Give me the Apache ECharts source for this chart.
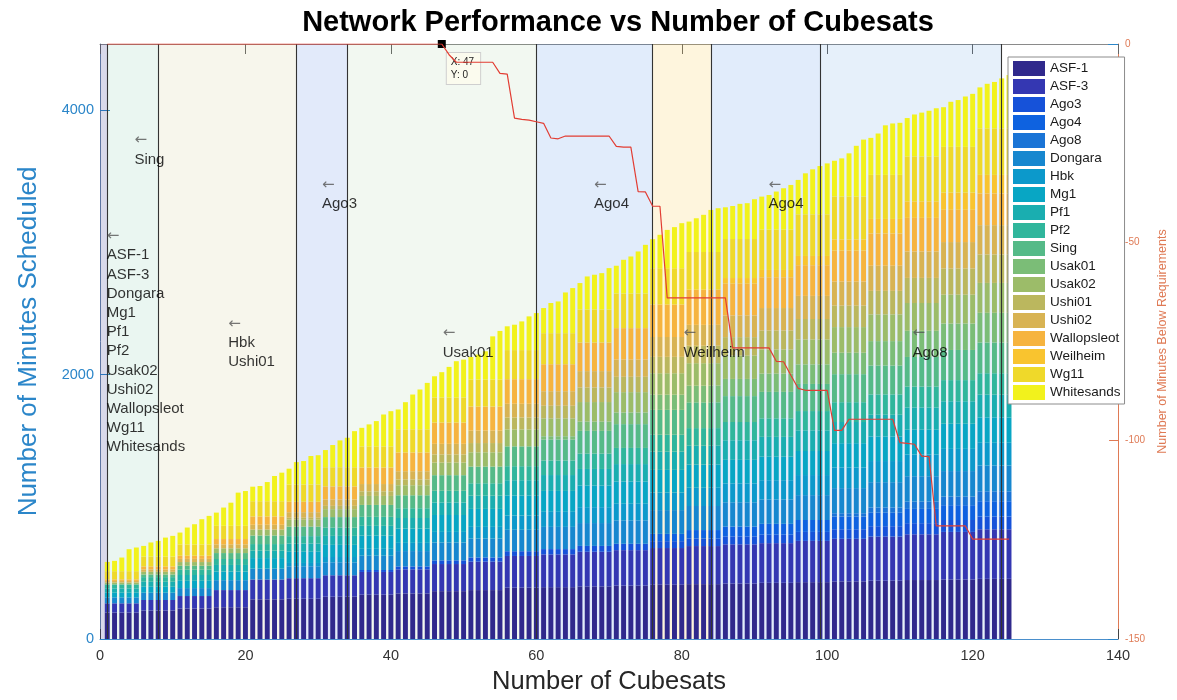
<!DOCTYPE html>
<html>
<head>
<meta charset="utf-8">
<script src="https://cdn.jsdelivr.net/npm/echarts@6.0.0/dist/echarts.min.js"></script>
<style>
html, body { margin: 0; padding: 0; background: #fff; }
#main { width: 1177px; height: 700px; }
</style>
</head>
<body>
<div id="main"></div>
<script>
// stations, bottom of the stack first
var stations = ['ASF-1', 'ASF-3', 'Ago3', 'Ago4', 'Ago8', 'Dongara', 'Hbk', 'Mg1', 'Pf1', 'Pf2',
    'Sing', 'Usak01', 'Usak02', 'Ushi01', 'Ushi02', 'Wallopsleot', 'Weilheim', 'Wg11', 'Whitesands'];
var colors = ['#30298c', '#3437b2', '#1652d9', '#0e62e0', '#1a74d6', '#1787cf', '#0c99cb', '#08a6c4', '#1aaeb0', '#30b69c',
    '#55ba88', '#7bbd77', '#9cbc69', '#bbb75e', '#d8b353', '#f6b43f', '#f9c42f', '#efd92a', '#f2f21c'];

// x positions: 1 .. 125 cubesats
var cubesats = [];
for (var n = 1; n <= 125; n++) cubesats.push(n);

// minutes scheduled per station
var asf1 = [200,200,200,200,200,215,215,215,215,215,230,230,230,230,230,240,240,240,240,240,300,300,300,300,300,
    305,305,305,305,305,320,320,320,320,320,335,335,335,335,335,345,345,345,345,345,362,362,362,362,362,
    370,370,370,370,370,388,388,388,388,388,392,392,392,392,392,398,398,398,398,398,404,404,404,404,404,
    410,410,410,410,410,415,415,415,415,415,420,420,420,420,420,425,425,425,425,425,430,430,430,430,430,
    436,436,436,436,436,441,441,441,441,441,446,446,446,446,446,450,450,450,450,450,455,455,455,455,455];
var asf3 = [70,70,70,70,70,80,80,80,80,80,95,95,95,95,95,130,130,130,130,130,150,150,150,150,150,
    155,155,155,155,155,162,162,162,162,162,172,172,172,172,172,182,182,182,182,182,205,205,205,205,205,
    215,215,215,215,215,240,240,240,240,240,248,248,248,248,248,262,262,262,262,262,268,268,268,268,268,
    278,278,278,278,278,288,288,288,288,288,296,296,296,296,296,300,300,300,300,300,312,312,312,312,312,
    322,322,322,322,322,334,334,334,334,334,346,346,346,346,346,360,360,360,360,360,375,375,375,375,375];
var ago3 = [0,0,0,0,0,0,0,0,0,0,0,0,0,0,0,0,0,0,0,0,0,0,0,0,0,
    0,0,0,0,0,0,0,0,0,0,15,15,15,15,15,22,22,22,22,22,28,28,28,28,28,
    32,32,32,32,32,36,36,36,36,36,40,40,40,40,40,44,44,44,44,44,48,48,48,48,48,
    52,52,52,52,52,56,56,56,56,56,60,60,60,60,60,64,64,64,64,64,68,68,68,68,68,
    72,72,72,72,72,78,78,78,78,78,84,84,84,84,84,90,90,90,90,90,96,96,96,96,96];
var ago4 = [0,0,0,0,0,0,0,0,0,0,0,0,0,0,0,0,0,0,0,0,0,0,0,0,0,
    0,0,0,0,0,0,0,0,0,0,0,0,0,0,0,0,0,0,0,0,0,0,0,0,0,
    0,0,0,0,0,0,0,0,0,0,0,0,0,0,0,0,0,0,0,0,0,0,0,0,0,
    55,55,55,55,55,65,65,65,65,65,74,74,74,74,74,82,82,82,82,82,90,90,90,90,90,
    96,96,96,96,96,102,102,102,102,102,108,108,108,108,108,112,112,112,112,112,116,116,116,116,116];
var ago8 = [0,0,0,0,0,0,0,0,0,0,0,0,0,0,0,0,0,0,0,0,0,0,0,0,0,
    0,0,0,0,0,0,0,0,0,0,0,0,0,0,0,0,0,0,0,0,0,0,0,0,0,
    0,0,0,0,0,0,0,0,0,0,0,0,0,0,0,0,0,0,0,0,0,0,0,0,0,
    0,0,0,0,0,0,0,0,0,0,0,0,0,0,0,0,0,0,0,0,0,0,0,0,0,
    25,25,25,25,25,40,40,40,40,40,55,55,55,55,55,65,65,65,65,65,75,75,75,75,75];
var dongara = [45,45,45,45,45,55,55,55,55,55,60,60,60,60,60,75,75,75,75,75,82,82,82,82,82,
    90,90,90,90,90,98,98,98,98,98,108,108,108,108,108,116,116,116,116,116,135,135,135,135,135,
    143,143,143,143,143,162,162,162,162,162,168,168,168,168,168,173,173,173,173,173,177,177,177,177,177,
    180,180,180,180,180,182,182,182,182,182,184,184,184,184,184,184,184,184,184,184,188,188,188,188,188,
    190,190,190,190,190,191,191,191,191,191,192,192,192,192,192,193,193,193,193,193,195,195,195,195,195];
var hbk = [0,0,0,0,0,0,0,0,0,0,0,0,0,0,0,0,0,0,0,0,0,0,0,0,0,
    25,25,25,25,25,40,40,40,40,40,52,52,52,52,52,62,62,62,62,62,80,80,80,80,80,
    88,88,88,88,88,108,108,108,108,108,114,114,114,114,114,120,120,120,120,120,126,126,126,126,126,
    132,132,132,132,132,138,138,138,138,138,143,143,143,143,143,146,146,146,146,146,152,152,152,152,152,
    156,156,156,156,156,160,160,160,160,160,164,164,164,164,164,168,168,168,168,168,172,172,172,172,172];
var mg1 = [35,35,35,35,35,45,45,45,45,45,55,55,55,55,55,65,65,65,65,65,80,80,80,80,80,
    85,85,85,85,85,92,92,92,92,92,100,100,100,100,100,108,108,108,108,108,128,128,128,128,128,
    136,136,136,136,136,152,152,152,152,152,158,158,158,158,158,163,163,163,163,163,168,168,168,168,168,
    172,172,172,172,172,175,175,175,175,175,178,178,178,178,178,178,178,178,178,178,182,182,182,182,182,
    184,184,184,184,184,186,186,186,186,186,188,188,188,188,188,190,190,190,190,190,192,192,192,192,192];
var pf1 = [33,33,33,33,33,38,38,38,38,38,44,44,44,44,44,50,50,50,50,50,56,56,56,56,56,
    62,62,62,62,62,68,68,68,68,68,74,74,74,74,74,80,80,80,80,80,95,95,95,95,95,
    100,100,100,100,100,115,115,115,115,115,120,120,120,120,120,126,126,126,126,126,132,132,132,132,132,
    138,138,138,138,138,143,143,143,143,143,148,148,148,148,148,150,150,150,150,150,156,156,156,156,156,
    160,160,160,160,160,164,164,164,164,164,168,168,168,168,168,170,170,170,170,170,172,172,172,172,172];
var pf2 = [30,30,30,30,30,35,35,35,35,35,40,40,40,40,40,45,45,45,45,45,50,50,50,50,50,
    56,56,56,56,56,62,62,62,62,62,68,68,68,68,68,74,74,74,74,74,88,88,88,88,88,
    94,94,94,94,94,106,106,106,106,106,110,110,110,110,110,116,116,116,116,116,122,122,122,122,122,
    128,128,128,128,128,133,133,133,133,133,138,138,138,138,138,140,140,140,140,140,146,146,146,146,146,
    150,150,150,150,150,154,154,154,154,154,158,158,158,158,158,160,160,160,160,160,162,162,162,162,162];
var sing = [0,0,0,0,0,20,20,20,20,20,30,30,30,30,30,45,45,45,45,45,65,65,65,65,65,
    72,72,72,72,72,80,80,80,80,80,90,90,90,90,90,98,98,98,98,98,118,118,118,118,118,
    126,126,126,126,126,150,150,150,150,150,158,158,158,158,158,172,172,172,172,172,180,180,180,180,180,
    188,188,188,188,188,195,195,195,195,195,196,196,196,196,196,200,200,200,200,200,205,205,205,205,205,
    212,212,212,212,212,218,218,218,218,218,224,224,224,224,224,228,228,228,228,228,232,232,232,232,232];
var usak01 = [0,0,0,0,0,0,0,0,0,0,0,0,0,0,0,0,0,0,0,0,0,0,0,0,0,
    0,0,0,0,0,0,0,0,0,0,0,0,0,0,0,0,0,0,0,0,0,0,0,0,0,
    0,0,0,0,0,0,0,0,0,0,25,25,25,25,25,70,70,70,70,70,88,88,88,88,88,
    115,115,115,115,115,126,126,126,126,126,130,130,130,130,130,138,138,138,138,138,148,148,148,148,148,
    162,162,162,162,162,185,185,185,185,185,198,198,198,198,198,200,200,200,200,200,225,225,225,225,225];
var usak02 = [14,14,14,14,14,20,20,20,20,20,28,28,28,28,28,36,36,36,36,36,45,45,45,45,45,
    52,52,52,52,52,60,60,60,60,60,68,68,68,68,68,76,76,76,76,76,95,95,95,95,95,
    108,108,108,108,108,128,128,128,128,128,135,135,135,135,135,148,148,148,148,148,154,154,154,154,154,
    162,162,162,162,162,170,170,170,170,170,176,176,176,176,176,182,182,182,182,182,188,188,188,188,188,
    194,194,194,194,194,202,202,202,202,202,210,210,210,210,210,218,218,218,218,218,226,226,226,226,226];
var ushi01 = [0,0,0,0,0,0,0,0,0,0,0,0,0,0,0,0,0,0,0,0,0,0,0,0,0,
    15,15,15,15,15,25,25,25,25,25,35,35,35,35,35,44,44,44,44,44,62,62,62,62,62,
    70,70,70,70,70,90,90,90,90,90,96,96,96,96,96,110,110,110,110,110,116,116,116,116,116,
    124,124,124,124,124,132,132,132,132,132,140,140,140,140,140,144,144,144,144,144,155,155,155,155,155,
    162,162,162,162,162,178,178,178,178,178,190,190,190,190,190,198,198,198,198,198,215,215,215,215,215];
var ushi02 = [12,12,12,12,12,18,18,18,18,18,24,24,24,24,24,30,30,30,30,30,36,36,36,36,36,
    42,42,42,42,42,48,48,48,48,48,55,55,55,55,55,62,62,62,62,62,80,80,80,80,80,
    94,94,94,94,94,104,104,104,104,104,110,110,110,110,110,124,124,124,124,124,130,130,130,130,130,
    150,150,150,150,150,158,158,158,158,158,164,164,164,164,164,170,170,170,170,170,175,175,175,175,175,
    182,182,182,182,182,190,190,190,190,190,200,200,200,200,200,200,200,200,200,200,222,222,222,222,222];
var wallopsleot = [12,12,12,12,12,23,23,23,23,23,24,24,24,24,24,40,40,40,40,40,63,63,63,63,63,
    79,79,79,79,79,99,99,99,99,99,125,125,125,125,125,142,142,142,142,142,161,161,161,161,161,
    182,182,182,182,182,186,186,186,186,186,204,204,204,204,204,216,216,216,216,216,238,238,238,238,238,
    246,246,246,246,246,266,266,266,266,266,240,240,240,240,240,233,233,233,233,233,232,232,232,232,232,
    234,234,234,234,234,244,244,244,244,244,254,254,254,254,254,244,244,244,244,244,240,240,240,240,240];
var weilheim = [0,0,0,0,0,0,0,0,0,0,0,0,0,0,0,0,0,0,0,0,0,0,0,0,0,
    0,0,0,0,0,0,0,0,0,0,0,0,0,0,0,0,0,0,0,0,0,0,0,0,0,
    0,0,0,0,0,0,0,0,0,0,0,0,0,0,0,0,0,0,0,0,0,0,0,0,0,
    0,0,0,0,0,0,0,0,0,0,43,43,43,43,43,55,55,55,55,55,70,70,70,70,70,
    85,85,85,85,85,110,110,110,110,110,125,125,125,125,125,130,130,130,130,130,140,140,140,140,140];
var wg11 = [62,62,62,62,62,75,75,75,75,75,85,85,85,85,85,100,100,100,100,100,115,115,115,115,115,
    130,130,130,130,130,145,145,145,145,145,160,160,160,160,160,175,175,175,175,175,190,190,190,190,190,
    205,205,205,205,205,220,220,220,220,220,235,235,235,235,235,250,250,250,250,250,262,262,262,262,262,
    274,274,274,274,274,285,285,285,285,285,295,295,295,295,295,305,305,305,305,305,315,315,315,315,315,
    325,325,325,325,325,333,333,333,333,333,340,340,340,340,340,346,346,346,346,346,352,352,352,352,352];
var whitesands = [70,78,103,166,179,80,106,118,143,156,90,128,153,191,216,100,138,175,251,263,110,115,145,191,216,
    120,170,178,216,222,130,168,203,223,273,140,166,191,241,266,150,205,263,301,351,160,191,231,274,286,
    170,188,213,326,367,180,192,217,255,280,190,228,240,308,341,200,250,263,275,313,210,255,280,318,368,
    220,253,290,311,341,230,255,281,318,331,240,250,266,271,301,250,262,288,313,338,260,310,340,365,385,
    270,288,326,383,430,280,313,375,389,394,290,317,331,345,364,300,341,354,381,401,310,337,351,378,403];

// minutes below requirements (right axis)
var belowReq = [0,0,0,0,0,0,0,0,0,0,0,0,0,0,0,0,0,0,0,0,0,0,0,0,0,
    0,0,0,0,0,0,0,0,0,0,0,0,0,0,0,0,0,0,0,0,0,0,-2.7,-4.6,-4.6,
    -4.6,-4.6,-4.6,-4.6,-7.4,-7.6,-18.7,-19,-19.2,-19.6,-20,-23.7,-23.9,-23.2,-23.2,-23.2,-23.2,-23.2,-23.2,-23.2,
    -25.8,-26,-26,-37.2,-37.3,-40.9,-40.9,-64,-64,-64,-64,-64,-64,-64,-64,-64,-76.6,-76.6,-76.6,-76.6,
    -76.6,-76.6,-80,-80.1,-83.5,-86.8,-87.3,-87.3,-87.3,-87.3,-97.4,-97.4,-94.6,-94.6,-94.6,-94.6,-94.6,-94.6,-94.6,-100.5,
    -100.7,-100.9,-103.9,-104,-121.5,-121.5,-121.5,-121.5,-121.5,-124.8,-124.8,-124.8,-124.8,-124.8,-124.8];

// station-addition markers and shaded spans
var stepLines = [1, 8, 27, 34, 60, 76, 84, 99, 124];
var spanStart = [0, 1, 8, 27, 34, 60, 76, 84, 99];
var spanEnd = [1, 8, 27, 34, 60, 76, 84, 99, 124];
var spanColor = ['#2e2a8c', '#56b888', '#bcb55f', '#1450d8', '#7cbd77', '#0b5fe0', '#f9c22e', '#0b5fe0', '#1b72d6'];
var spanAlpha = [0.18, 0.12, 0.12, 0.12, 0.1, 0.12, 0.16, 0.12, 0.11];

// text annotations
var annX = [1, 4.8, 17.7, 30.6, 47.2, 68, 80.3, 92, 111.8];
var annY = [2245, 3694, 2234, 3358, 2234, 3358, 2234, 3358, 2234];
var annText = ['ASF-1\nASF-3\nDongara\nMg1\nPf1\nPf2\nUsak02\nUshi02\nWallopsleot\nWg11\nWhitesands',
    'Sing', 'Hbk\nUshi01', 'Ago3', 'Usak01', 'Ago4', 'Weilheim', 'Ago4', 'Ago8'];

var stationData = [asf1, asf3, ago3, ago4, ago8, dongara, hbk, mg1, pf1, pf2,
    sing, usak01, usak02, ushi01, ushi02, wallopsleot, weilheim, wg11, whitesands];

var FONT = 'Liberation Sans, Arial, sans-serif';
var BLUE = '#2b86c9';
var ORANGE = '#df7a55';
var BAR_FRAC = 0.68;   // bar width as a fraction of one cubesat step

function plain(v) { return String(v); }

// running totals so each station's block sits on the ones below it
var stackBase = cubesats.map(function() { return 0; });

var myChart = echarts.init(document.getElementById('main'));

var series = [];
stations.forEach(function(name, s) {
    var rows = stationData[s].map(function(v, i) {
        var row = [cubesats[i], stackBase[i], stackBase[i] + v];
        stackBase[i] += v;
        return row;
    });
    series.push({
        name: name,
        type: 'custom',
        xAxisIndex: 0,
        yAxisIndex: 0,
        silent: true,
        itemStyle: {color: colors[s]},
        encode: {x: 0, y: [1, 2]},
        renderItem: function(params, api) {
            var x = api.value(0);
            var lo = api.coord([x, api.value(1)]);
            var hi = api.coord([x, api.value(2)]);
            var w = api.size([1, 0])[0] * BAR_FRAC;
            return {
                type: 'rect',
                shape: {x: lo[0] - w / 2, y: hi[1], width: w, height: lo[1] - hi[1]},
                style: {fill: colors[s]}
            };
        },
        data: rows
    });
});

// shaded spans + vertical lines, drawn over the bars
series.push({
    name: 'spans',
    type: 'line',
    xAxisIndex: 0,
    yAxisIndex: 0,
    z: 3,
    silent: true,
    data: [],
    markArea: {
        silent: true,
        data: spanStart.map(function(a, i) {
            return [{xAxis: a, itemStyle: {color: spanColor[i], opacity: spanAlpha[i]}}, {xAxis: spanEnd[i]}];
        })
    },
    markLine: {
        silent: true,
        symbol: 'none',
        label: {show: false},
        lineStyle: {color: '#333', width: 1.1, type: 'solid'},
        data: stepLines.map(function(x) { return {xAxis: x}; })
    }
});

series.push({
    name: 'below',
    type: 'line',
    xAxisIndex: 0,
    yAxisIndex: 1,
    z: 6,
    silent: true,
    symbol: 'none',
    lineStyle: {color: '#e23d33', width: 1.2},
    data: belowReq.map(function(v, i) { return [cubesats[i], v]; }),
    markPoint: {
        silent: true,
        symbol: 'rect',
        symbolSize: 8,
        itemStyle: {color: '#000'},
        label: {
            show: true,
            position: [9, 13],
            align: 'left',
            verticalAlign: 'top',
            formatter: 'X: 47\nY: 0',
            fontSize: 10,
            lineHeight: 13,
            color: '#222',
            fontFamily: FONT,
            backgroundColor: '#fbfbee',
            borderColor: '#cfcfcf',
            borderWidth: 1,
            padding: [3, 6, 2, 4]
        },
        data: [{coord: [47, 0]}]
    }
});

series.push({
    name: 'notes',
    type: 'scatter',
    xAxisIndex: 0,
    yAxisIndex: 0,
    z: 7,
    silent: true,
    symbolSize: 1,
    itemStyle: {color: 'rgba(0,0,0,0)'},
    label: {
        show: true,
        position: [0, 0],
        align: 'left',
        verticalAlign: 'middle',
        formatter: function(p) {
            var lines = p.data[2].split('\n');
            return '{a|\u2190}\n' + lines.map(function(l) { return '{b|' + l + '}'; }).join('\n');
        },
        rich: {
            a: {fontSize: 15, color: '#555', lineHeight: 19.2, fontFamily: 'DejaVu Sans'},
            b: {fontSize: 15, color: '#000', lineHeight: 19.2, fontFamily: FONT}
        }
    },
    data: annX.map(function(x, i) { return [x, annY[i], annText[i]]; })
});

option = {
    animation: false,
    backgroundColor: '#fff',
    textStyle: {fontFamily: FONT},
    title: {
        text: 'Network Performance vs Number of Cubesats',
        left: 613,
        top: 3,
        textAlign: 'center',
        textStyle: {fontSize: 29, fontWeight: 'bold', color: '#000', fontFamily: FONT}
    },
    legend: {
        data: stations,
        orient: 'vertical',
        left: 1008,
        top: 57,
        z: 10,
        icon: 'rect',
        itemWidth: 32,
        itemHeight: 15,
        itemGap: 3,
        selectedMode: false,
        backgroundColor: '#fff',
        borderColor: '#8c8c8c',
        borderWidth: 1,
        padding: [4, 4, 4, 5],
        textStyle: {fontSize: 13.5, color: '#1a1a1a', fontFamily: FONT}
    },
    grid: {left: 100, right: 47, top: 44, bottom: 60},
    xAxis: [{
        type: 'value',
        position: 'bottom',
        min: 0,
        max: 140,
        interval: 20,
        name: 'Number of Cubesats',
        nameLocation: 'middle',
        nameGap: 30,
        nameTextStyle: {fontSize: 25.5, color: '#262626', fontFamily: FONT},
        axisLine: {show: true, onZero: false, lineStyle: {color: '#4a8fcc', width: 1}},
        axisTick: {show: true, inside: true, length: 10, lineStyle: {color: '#444'}},
        axisLabel: {fontSize: 14.5, color: '#333', margin: 9, formatter: plain},
        splitLine: {show: false}
    }, {
        type: 'value',
        position: 'top',
        min: 0,
        max: 140,
        interval: 20,
        axisLine: {show: true, onZero: false, lineStyle: {color: '#8a8a8a', width: 1}},
        axisTick: {show: true, inside: true, length: 10, lineStyle: {color: '#666'}},
        axisLabel: {show: false},
        splitLine: {show: false}
    }],
    yAxis: [{
        type: 'value',
        position: 'left',
        min: 0,
        max: 4500,
        interval: 2000,
        name: 'Number of Minutes Scheduled',
        nameLocation: 'middle',
        nameGap: 58,
        nameTextStyle: {fontSize: 26, color: BLUE, fontFamily: FONT},
        axisLine: {show: true, onZero: false, lineStyle: {color: '#6a86a8', width: 1}},
        axisTick: {show: true, inside: true, length: 10, lineStyle: {color: BLUE}},
        axisLabel: {fontSize: 14.5, color: BLUE, margin: 6, showMaxLabel: false, formatter: plain},
        splitLine: {show: false}
    }, {
        type: 'value',
        position: 'right',
        min: -150,
        max: 0,
        interval: 50,
        name: 'Number of Minutes Below Requirements',
        nameLocation: 'middle',
        nameGap: 31,
        nameTextStyle: {fontSize: 12.5, color: ORANGE, fontFamily: FONT},
        axisLine: {show: true, onZero: false, lineStyle: {color: ORANGE, width: 1}},
        axisTick: {show: true, inside: true, length: 9, lineStyle: {color: ORANGE}},
        axisLabel: {fontSize: 10, color: ORANGE, margin: 7, formatter: plain},
        splitLine: {show: false}
    }, {
        type: 'value',
        position: 'right',
        min: 0,
        max: 4500,
        interval: 2000,
        axisLine: {show: false, onZero: false},
        axisTick: {show: true, inside: true, length: 10, lineStyle: {color: BLUE}},
        axisLabel: {show: false},
        splitLine: {show: false}
    }],
    series: series
};

myChart.setOption(option);
</script>
</body>
</html>
